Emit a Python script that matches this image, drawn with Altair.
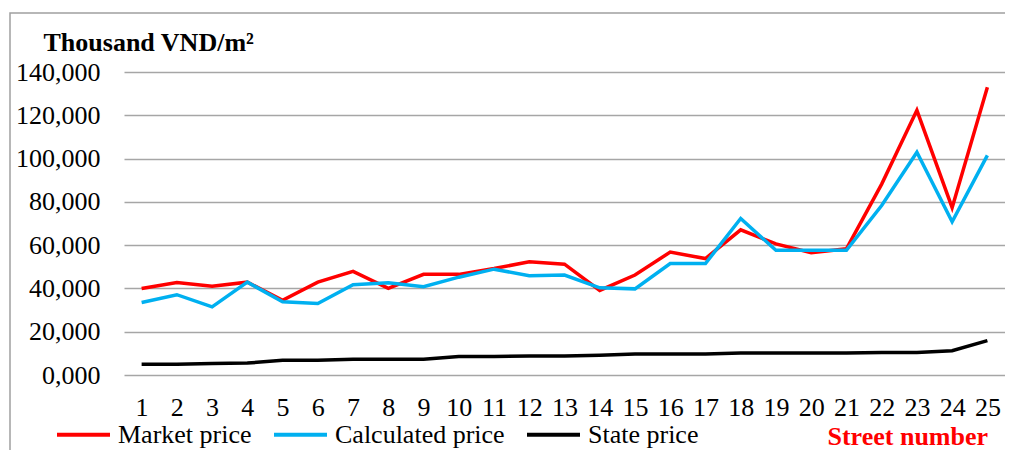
import altair as alt
import pandas as pd

streets = list(range(1, 26))
market = [40000, 42700, 41000, 42900, 34500, 42900, 47900, 40000, 46500, 46500,
          49200, 52300, 51200, 39100, 46200, 56800, 53800, 67100, 60600, 56500,
          58300, 88200, 122300, 77300, 132900]
calculated = [33500, 37100, 31500, 42900, 33800, 33000, 41700, 42600, 40800, 45200,
              48900, 45900, 46200, 40300, 39800, 51500, 51500, 72300, 57600, 57600,
              57600, 78300, 102900, 70800, 101500]
state = [5000, 5000, 5300, 5500, 6800, 6800, 7300, 7300, 7300, 8500,
         8500, 8800, 8800, 9100, 9700, 9700, 9700, 10150, 10150, 10150,
         10150, 10450, 10450, 11200, 15900]
series_names = ["Market price", "Calculated price", "State price"]
series_colors = ["#FF0000", "#00B0F0", "#000000"]
y_ticks = [0, 20000, 40000, 60000, 80000, 100000, 120000, 140000]

rows = []
for name, vals in zip(series_names, [market, calculated, state]):
    for s, v in zip(streets, vals):
        rows.append({"street": s, "value": v, "series": name})
df = pd.DataFrame(rows)

W, H = 881, 303
FONT = "Times New Roman, Liberation Serif, serif"

lines = alt.Chart(df).mark_line(strokeWidth=3.5).encode(
    x=alt.X("street:O", scale=alt.Scale(type="point", padding=0.5),
            axis=alt.Axis(labelAngle=0, labelFontSize=26, labelFont=FONT, labelColor="black",
                          labelPadding=19, domain=False, ticks=False, grid=False,
                          title="Street number", titleColor="#FF0000", titleFontWeight="bold",
                          titleFontSize=26, titleFont=FONT, titleX=703, titleY=69,
                          titleAlign="left", titleBaseline="alphabetic")),
    y=alt.Y("value:Q", scale=alt.Scale(domain=[0, 140000]),
            axis=alt.Axis(values=y_ticks,
                          labelExpr="datum.value == 0 ? '0,000' : format(datum.value, ',')",
                          labelFontSize=26, labelFont=FONT, labelColor="black", labelPadding=24,
                          domain=False, ticks=False, grid=True, gridColor="#A6A6A6", gridWidth=1.5,
                          title="Thousand VND/m²", titleAngle=0, titleX=-81, titleY=-22,
                          titleAlign="left", titleBaseline="alphabetic", titleFontSize=26,
                          titleFont=FONT, titleFontWeight="bold", titleColor="black")),
    color=alt.Color("series:N", scale=alt.Scale(domain=series_names, range=series_colors),
                    sort=series_names,
                    legend=alt.Legend(orient="none", legendX=-69, legendY=334, direction="horizontal",
                                      columns=3, title=None, labelFontSize=26, labelFont=FONT,
                                      labelColor="black", labelOffset=6, columnPadding=14,
                                      labelLimit=400, gridAlign="each",
                                      symbolType="stroke", symbolSize=2809, symbolStrokeWidth=3.8)),
)

frame = alt.Chart(pd.DataFrame({"a": [0]})).mark_rect(fill=None, stroke="#A0A0A0", strokeWidth=1.5).encode(
    x=alt.value(-114), x2=alt.value(W + 200), y=alt.value(-59), y2=alt.value(H + 200)
)

chart = alt.layer(frame, lines).properties(
    width=W, height=H,
    autosize=alt.AutoSizeParams(type="none"),
    padding={"left": 116, "top": 64, "right": 0, "bottom": 75},
).configure_view(stroke=None)

chart.save("out.html", embed_options={"renderer": "svg", "actions": False})
